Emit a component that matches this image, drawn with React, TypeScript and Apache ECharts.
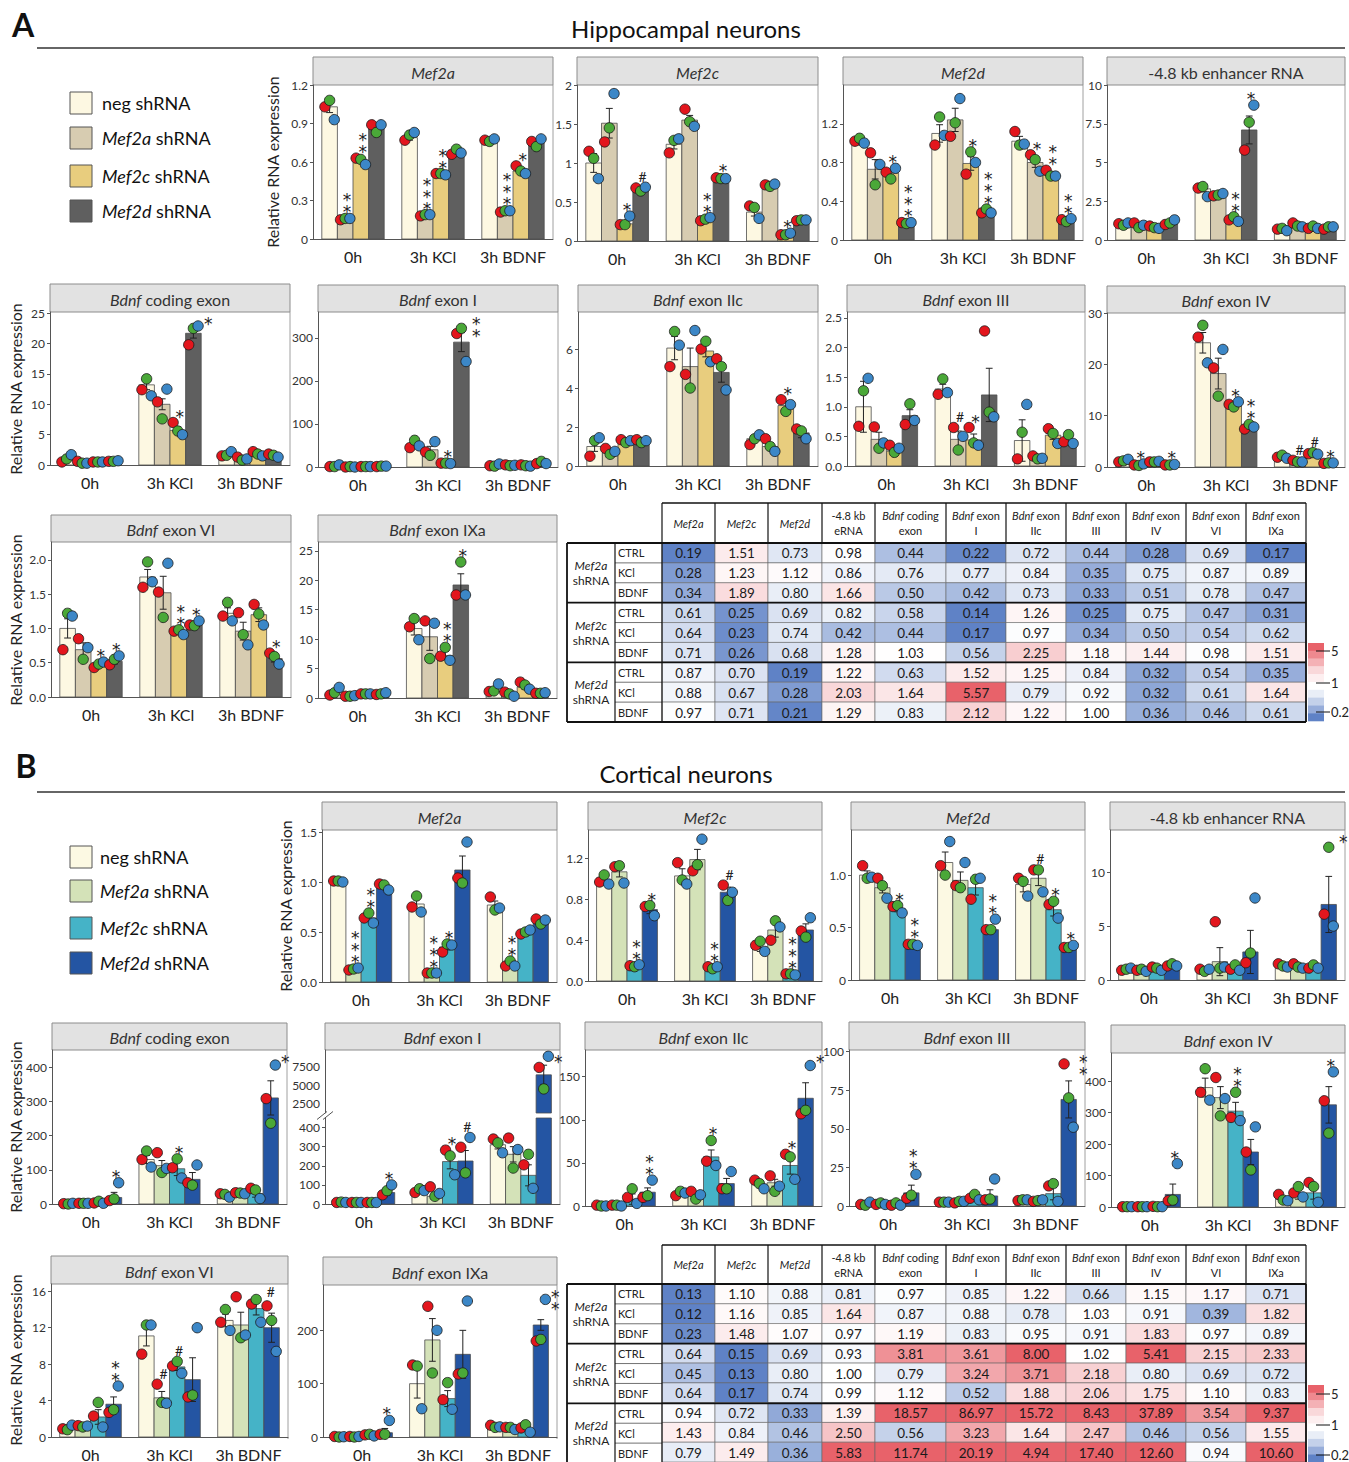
import React, { useEffect, useRef } from 'react';
import * as echarts from 'echarts';

const FONT = 'Lato, "Open Sans", "DejaVu Sans", sans-serif';
const STAR_FONT = '"DejaVu Sans", Lato, sans-serif';
const BAR_FRAC = 0.195;
const DOT_OFF = [-0.3, 0, 0.3];

const GROUPS = ['0h', '3h KCl', '3h BDNF'];
const COND_LABELS = ['neg shRNA', '{i|Mef2a} shRNA', '{i|Mef2c} shRNA', '{i|Mef2d} shRNA'];
const COLORS_A = ['#fdf8e2', '#d7ccb1', '#e8cd7e', '#5f5f5f'];
const COLORS_B = ['#fcf9e3', '#d4e2b8', '#45b3c7', '#2455a3'];
const DOT_COLORS = ['#e3161d', '#4aa838', '#3c87c7'];
const TITLE_A = 'Hippocampal neurons';
const TITLE_B = 'Cortical neurons';
const Y_TITLE = 'Relative RNA expression';

// ---------- Panel A (hippocampal) : rows = condition (neg, Mef2a, Mef2c, Mef2d), cols = group ----------
const A1_MEAN = [[1.03, 0.79, 0.77], [0.16, 0.18, 0.22], [0.61, 0.50, 0.53], [0.86, 0.68, 0.75]];
const A1_SEM = [[0.045, 0.02, 0.01], [0.005, 0.005, 0.005], [0.015, 0.005, 0.02], [0.02, 0.015, 0.02]];
const A1_DOTS = [
  [[1.03, 1.08, 0.93], [0.77, 0.81, 0.83], [0.77, 0.76, 0.78]],
  [[0.15, 0.16, 0.16], [0.18, 0.19, 0.19], [0.21, 0.22, 0.22]],
  [[0.63, 0.62, 0.58], [0.51, 0.51, 0.50], [0.57, 0.53, 0.51]],
  [[0.89, 0.83, 0.89], [0.66, 0.70, 0.67], [0.76, 0.72, 0.78]]];
const A1_SIG = [['', '', ''], ['**', '***', '***'], ['**', '**', '*'], ['', '', '']];

const A2_MEAN = [[1.0, 1.24, 0.37], [1.51, 1.55, 0.71], [0.22, 0.27, 0.08], [0.66, 0.81, 0.27]];
const A2_SEM = [[0.12, 0.06, 0.05], [0.19, 0.06, 0.01], [0.03, 0.01, 0.01], [0.02, 0.01, 0.01]];
const A2_DOTS = [
  [[1.15, 1.06, 0.80], [1.13, 1.29, 1.31], [0.45, 0.43, 0.29]],
  [[1.27, 1.45, 1.89], [1.69, 1.53, 1.47], [0.72, 0.70, 0.73]],
  [[0.21, 0.21, 0.32], [0.26, 0.28, 0.30], [0.08, 0.08, 0.10]],
  [[0.68, 0.64, 0.69], [0.81, 0.80, 0.80], [0.26, 0.27, 0.27]]];
const A2_SIG = [['', '', ''], ['', '', ''], ['*', '**', '*'], ['#', '*', '']];

const A3_MEAN = [[1.0, 1.1, 1.02], [0.73, 1.24, 0.80], [0.69, 0.79, 0.67], [0.18, 0.29, 0.20]];
const A3_SEM = [[0.02, 0.09, 0.05], [0.1, 0.12, 0.05], [0.04, 0.07, 0.02], [0.01, 0.01, 0.01]];
const A3_DOTS = [
  [[1.02, 1.05, 1.0], [0.98, 1.27, 1.08], [1.12, 0.98, 0.99]],
  [[0.90, 0.57, 0.78], [1.07, 1.21, 1.46], [0.88, 0.83, 0.71]],
  [[0.70, 0.63, 0.74], [0.68, 0.91, 0.80], [0.72, 0.66, 0.66]],
  [[0.18, 0.17, 0.18], [0.28, 0.32, 0.28], [0.21, 0.19, 0.22]]];
const A3_SIG = [['', '', ''], ['', '', '*'], ['*', '*', '**'], ['***', '***', '**']];

const A4_MEAN = [[1.0, 3.3, 0.7], [0.95, 2.9, 0.9], [0.8, 1.3, 0.8], [1.1, 7.1, 0.8]];
const A4_SEM = [[0.05, 0.2, 0.05], [0.1, 0.05, 0.08], [0.05, 0.1, 0.05], [0.1, 0.9, 0.05]];
const A4_DOTS = [
  [[1.05, 0.95, 1.1], [3.35, 3.45, 2.8], [0.7, 0.75, 0.6]],
  [[1.1, 0.8, 0.95], [2.85, 2.9, 3.0], [1.1, 0.9, 0.85]],
  [[0.9, 0.8, 0.75], [1.3, 1.5, 1.2], [0.75, 0.9, 0.75]],
  [[1.0, 1.1, 1.3], [5.8, 7.6, 8.7], [0.7, 0.85, 0.85]]];
const A4_SIG = [['', '', ''], ['', '', ''], ['', '**', ''], ['', '*', '']];

const A5_MEAN = [[1.0, 13.2, 1.8], [0.5, 10.0, 0.9], [0.5, 5.7, 1.9], [0.6, 21.7, 1.6]];
const A5_SEM = [[0.35, 0.8, 0.2], [0.1, 0.9, 0.2], [0.05, 0.6, 0.2], [0.05, 0.8, 0.15]];
const A5_DOTS = [
  [[0.5, 1.0, 1.7], [12.4, 14.2, 11.4], [1.5, 1.6, 2.2]],
  [[0.6, 0.3, 0.3], [10.4, 7.6, 12.5], [1.3, 0.8, 1.0]],
  [[0.5, 0.5, 0.5], [7.0, 5.6, 5.0], [2.2, 1.8, 1.5]],
  [[0.6, 0.6, 0.7], [19.8, 22.5, 22.9], [1.8, 1.6, 1.3]]];
const A5_SIG = [['', '', ''], ['', '', ''], ['', '*', ''], ['', '*', '']];

const A6_MEAN = [[1, 52, 4], [1, 40, 5], [1, 9, 3], [1, 290, 10]];
const A6_SEM = [[1, 5, 1], [0.5, 8, 1], [0.5, 0.5, 1], [0.5, 22, 2]];
const A6_DOTS = [
  [[1, 1, 5], [45, 62, 49], [3, 2, 7]],
  [[0, 1, 0], [35, 27, 59], [5, 3, 4]],
  [[1, 1, 1], [9, 9, 8], [5, 3, 2]],
  [[1, 2, 2], [310, 322, 245], [8, 13, 8]]];
const A6_SIG = [['', '', ''], ['', '', ''], ['', '*', ''], ['', '**', '']];

const A7_MEAN = [[1.0, 6.05, 1.4], [0.7, 5.1, 1.0], [1.25, 5.9, 3.1], [1.25, 4.8, 1.7]];
const A7_SEM = [[0.25, 0.6, 0.15], [0.1, 0.95, 0.2], [0.05, 0.3, 0.2], [0.05, 0.5, 0.25]];
const A7_DOTS = [
  [[0.5, 1.3, 1.45], [5.1, 6.9, 6.2], [1.1, 1.4, 1.6]],
  [[0.9, 0.6, 0.75], [4.7, 4.0, 6.95], [1.4, 1.0, 0.75]],
  [[1.35, 1.2, 1.3], [6.0, 6.4, 5.35], [3.4, 2.8, 3.15]],
  [[1.35, 1.2, 1.3], [5.5, 5.1, 3.9], [1.9, 1.8, 1.4]]];
const A7_SIG = [['', '', ''], ['', '', ''], ['', '', '*'], ['', '', '']];

const A8_MEAN = [[1.0, 1.3, 0.43], [0.45, 0.45, 0.14], [0.25, 0.44, 0.52], [0.85, 1.2, 0.43]];
const A8_SEM = [[0.43, 0.08, 0.35], [0.12, 0.14, 0.03], [0.05, 0.1, 0.07], [0.1, 0.45, 0.05]];
const A8_DOTS = [
  [[0.67, 1.27, 1.48], [1.21, 1.47, 1.24], [0.12, 0.57, 1.04]],
  [[0.66, 0.30, 0.39], [0.65, 0.27, 0.50], [0.17, 0.12, 0.13]],
  [[0.35, 0.23, 0.30], [0.65, 0.39, 0.35], [0.63, 0.55, 0.38]],
  [[0.70, 1.05, 0.77], [2.28, 0.91, 0.83], [0.41, 0.53, 0.38]]];
const A8_SIG = [['', '', ''], ['', '#', ''], ['', '*', ''], ['', '', '']];

const A9_MEAN = [[1.0, 24.2, 2.0], [0.5, 18.2, 1.1], [1.0, 12.1, 2.6], [0.4, 7.8, 0.8]];
const A9_SEM = [[0.2, 2.0, 0.3], [0.1, 3.0, 0.1], [0.05, 0.3, 0.1], [0.05, 0.3, 0.05]];
const A9_DOTS = [
  [[1.0, 1.2, 1.5], [25.3, 27.6, 20.3], [1.9, 2.3, 1.7]],
  [[0.4, 0.3, 0.6], [19.3, 13.8, 22.9], [1.3, 1.0, 1.0]],
  [[1.0, 1.0, 1.1], [12.2, 11.7, 12.7], [2.6, 2.8, 2.5]],
  [[0.4, 0.4, 0.5], [7.4, 8.3, 7.8], [0.7, 0.8, 0.8]]];
const A9_SIG = [['', '', ''], ['*', '', '#'], ['', '*', '#'], ['*', '**', '*']];

const A10_MEAN = [[1.0, 1.75, 1.22], [0.69, 1.52, 0.96], [0.47, 0.95, 1.2], [0.52, 1.07, 0.56]];
const A10_SEM = [[0.14, 0.11, 0.08], [0.1, 0.24, 0.13], [0.03, 0.02, 0.1], [0.04, 0.02, 0.05]];
const A10_DOTS = [
  [[0.69, 1.22, 1.18], [1.6, 1.97, 1.68], [1.18, 1.38, 1.11]],
  [[0.85, 0.55, 0.72], [1.53, 1.16, 1.95], [1.23, 0.91, 0.76]],
  [[0.43, 0.48, 0.51], [0.96, 0.98, 0.91], [1.35, 1.21, 1.05]],
  [[0.47, 0.55, 0.6], [1.05, 1.04, 1.11], [0.64, 0.59, 0.48]]];
const A10_SIG = [['', '', ''], ['', '', ''], ['*', '**', ''], ['*', '*', '*']];

const A11_MEAN = [[1.0, 11.8, 1.1], [0.35, 10.4, 0.6], [0.7, 7.2, 1.9], [0.7, 19.2, 0.8]];
const A11_SEM = [[0.4, 1.1, 0.3], [0.05, 2.3, 0.2], [0.05, 0.7, 0.4], [0.1, 1.9, 0.05]];
const A11_DOTS = [
  [[0.5, 0.9, 1.8], [12.1, 13.5, 9.9], [1.1, 1.2, 2.4]],
  [[0.3, 0.3, 0.4], [13.1, 6.7, 12.7], [1.0, 0.7, 0.3]],
  [[0.7, 0.7, 0.7], [7.1, 8.6, 6.4], [2.7, 2.2, 1.5]],
  [[0.6, 0.7, 0.9], [17.5, 23.1, 17.5], [0.8, 0.8, 0.9]]];
const A11_SIG = [['', '', ''], ['', '', ''], ['', '**', ''], ['', '*', '']];

// ---------- Panel B (cortical) ----------
const B1_MEAN = [[1.01, 0.78, 0.77], [0.12, 0.09, 0.17], [0.64, 0.35, 0.49], [0.95, 1.12, 0.60]];
const B1_SEM = [[0.005, 0.05, 0.04], [0.005, 0.003, 0.02], [0.03, 0.03, 0.01], [0.02, 0.14, 0.02]];
const B1_DOTS = [
  [[1.01, 1.01, 1.0], [0.75, 0.86, 0.70], [0.85, 0.72, 0.74]],
  [[0.12, 0.13, 0.14], [0.09, 0.09, 0.09], [0.16, 0.21, 0.16]],
  [[0.64, 0.69, 0.59], [0.30, 0.38, 0.37], [0.48, 0.50, 0.52]],
  [[0.98, 0.97, 0.92], [1.04, 0.99, 1.40], [0.63, 0.58, 0.62]]];
const B1_SIG = [['', '', ''], ['***', '***', '**'], ['**', '*', ''], ['', '', '']];

const B2_MEAN = [[0.97, 1.03, 0.33], [1.07, 1.19, 0.50], [0.14, 0.13, 0.06], [0.70, 0.87, 0.50]];
const B2_SEM = [[0.03, 0.07, 0.04], [0.05, 0.1, 0.07], [0.01, 0.01, 0.005], [0.04, 0.05, 0.06]];
const B2_DOTS = [
  [[0.97, 1.04, 0.95], [1.16, 0.99, 0.95], [0.35, 0.39, 0.29]],
  [[1.12, 1.13, 0.96], [1.08, 1.14, 1.39], [0.40, 0.59, 0.53]],
  [[0.15, 0.14, 0.16], [0.14, 0.12, 0.14], [0.07, 0.07, 0.06]],
  [[0.73, 0.74, 0.64], [0.94, 0.79, 0.87], [0.49, 0.43, 0.62]]];
const B2_SIG = [['', '', ''], ['', '', ''], ['**', '**', '***'], ['*', '#', '']];

const B3_MEAN = [[1.0, 1.12, 0.91], [0.88, 0.95, 0.97], [0.68, 0.88, 0.67], [0.34, 0.48, 0.31]];
const B3_SEM = [[0.04, 0.1, 0.07], [0.05, 0.08, 0.07], [0.03, 0.07, 0.06], [0.01, 0.03, 0.01]];
const B3_DOTS = [
  [[1.09, 0.97, 0.98], [1.09, 1.0, 1.32], [0.97, 0.94, 0.80]],
  [[0.97, 0.90, 0.78], [0.90, 0.88, 1.12], [1.05, 1.05, 0.84]],
  [[0.70, 0.71, 0.64], [0.77, 0.96, 0.97], [0.72, 0.75, 0.59]],
  [[0.34, 0.34, 0.33], [0.48, 0.48, 0.58], [0.31, 0.31, 0.33]]];
const B3_SIG = [['', '', ''], ['', '', '#'], ['*', '', '*'], ['**', '**', '*']];

const B4_MEAN = [[0.9, 0.9, 1.3], [0.85, 1.7, 1.3], [1.1, 1.0, 1.2], [1.35, 2.6, 7.0]];
const B4_SEM = [[0.05, 0.05, 0.1], [0.05, 1.3, 0.1], [0.1, 0.15, 0.1], [0.07, 2.0, 2.6]];
const B4_DOTS = [
  [[0.9, 1.0, 1.1], [1.0, 0.8, 1.0], [1.5, 1.3, 1.2]],
  [[0.9, 1.0, 0.8], [5.4, 1.1, 1.2], [1.5, 1.2, 1.1]],
  [[1.2, 1.1, 0.9], [1.0, 1.4, 0.9], [1.1, 1.4, 1.1]],
  [[1.3, 1.5, 1.3], [1.6, 2.5, 7.6], [6.1, 12.3, 5.0]]];
const B4_SIG = [['', '', ''], ['', '', ''], ['', '', ''], ['', '', '*']];

const B5_MEAN = [[1, 130, 25], [2, 112, 30], [3, 103, 30], [19, 72, 310]];
const B5_SEM = [[0.5, 12, 3], [0.3, 15, 2], [2, 20, 10], [15, 20, 50]];
const B5_DOTS = [
  [[1, 0, 2], [130, 155, 108], [30, 28, 20]],
  [[2, 2, 2], [150, 92, 104], [33, 32, 30]],
  [[3, 8, 2], [106, 132, 76], [46, 41, 16]],
  [[10, 15, 62], [62, 55, 114], [308, 236, 406]]];
const B5_SIG = [['', '', ''], ['', '', ''], ['', '*', ''], ['*', '', '*']];

const B6_MEAN = [[8, 68, 310], [8, 40, 260], [8, 222, 150], [60, 225, 6400]];
const B6_SEM = [[0.5, 6, 22], [0.5, 15, 40], [0.5, 38, 55], [15, 55, 1300]];
const B6_DOTS = [
  [[8, 10, 8], [60, 80, 70], [340, 320, 268]],
  [[8, 8, 8], [90, 40, 55], [345, 188, 285]],
  [[8, 8, 8], [282, 252, 153], [205, 260, 82]],
  [[48, 70, 100], [297, 163, 348], [7400, 4500, 8900]]];
const B6_SIG = [['', '', ''], ['', '', ''], ['', '*', ''], ['*', '#', '*']];
const B6_UPPER_TICKS = [2500, 5000, 7500];

const B7_MEAN = [[0.5, 15, 25], [0.5, 12, 27], [8, 57, 47], [16, 26, 125]];
const B7_SEM = [[0.3, 1, 3], [0.3, 3, 4], [6, 8, 10], [5, 6, 18]];
const B7_DOTS = [
  [[1, 0, 0], [12, 17, 15], [30, 26, 20]],
  [[1, 1, 0], [17, 8, 13], [35, 17, 23]],
  [[10, 20, 3], [52, 76, 47], [60, 57, 31]],
  [[10, 12, 30], [20, 20, 40], [107, 111, 163]]];
const B7_SIG = [['', '', ''], ['', '', ''], ['', '*', '*'], ['**', '', '*']];

const B8_MEAN = [[1, 2.5, 3.5], [1, 2, 3.5], [0.5, 6, 8], [8.5, 6.5, 69]];
const B8_SEM = [[0.5, 0.2, 0.3], [0.5, 0.5, 0.3], [0.3, 1.5, 4], [5, 4, 12]];
const B8_DOTS = [
  [[1, 0.5, 2.5], [2.5, 2.5, 2.5], [3.5, 4, 4]],
  [[1, 2, 1], [2, 3, 3], [3, 3.5, 4]],
  [[0.5, 2, 0.5], [5, 7.5, 4], [13, 14.5, 3]],
  [[5, 7, 20.5], [4, 4.5, 17.5], [92, 70, 51]]];
const B8_SIG = [['', '', ''], ['', '', ''], ['', '', ''], ['**', '', '**']];

const B9_MEAN = [[1, 380, 25], [1, 348, 35], [2, 305, 45], [40, 175, 325]];
const B9_SEM = [[0.3, 30, 5], [0.3, 35, 10], [0.5, 28, 20], [33, 40, 58]];
const B9_DOTS = [
  [[1, 1, 1], [365, 440, 340], [40, 22, 20]],
  [[1, 1, 1], [412, 290, 345], [45, 65, 32]],
  [[2, 1, 1], [285, 365, 275], [78, 65, 15]],
  [[20, 22, 138], [175, 118, 255], [338, 235, 430]]];
const B9_SIG = [['', '', ''], ['', '', ''], ['', '**', ''], ['*', '', '*']];

const B10_MEAN = [[1.0, 11.1, 12.8], [1.1, 4.3, 12.3], [2.2, 7.7, 14.1], [3.6, 6.3, 12.0]];
const B10_SEM = [[0.15, 1.1, 0.7], [0.05, 0.7, 1.4], [0.8, 0.4, 0.7], [0.8, 2.4, 1.6]];
const B10_DOTS = [
  [[0.9, 0.8, 1.3], [9.1, 12.3, 12.3], [12.6, 14.0, 11.7]],
  [[1.25, 1.1, 1.2], [5.8, 3.8, 3.7], [15.4, 10.9, 11.2]],
  [[2.3, 3.8, 1.1], [7.8, 8.3, 7.0], [14.6, 15.1, 12.6]],
  [[2.7, 3.0, 5.6], [4.4, 4.6, 12.0], [14.4, 12.8, 9.4]]];
const B10_SIG = [['', '', ''], ['', '#', ''], ['', '#', '#'], ['**', '', '']];

const B11_MEAN = [[1, 100, 20], [1, 182, 18], [3, 72, 15], [8, 155, 210]];
const B11_SEM = [[0.5, 27, 2], [0.5, 40, 2], [1, 15, 3], [8, 45, 10]];
const B11_DOTS = [
  [[1, 0, 0.5], [135, 133, 53], [22, 18, 19]],
  [[1, 0, 1], [245, 120, 200], [18, 18, 14]],
  [[4, 5, 2], [70, 102, 52], [17, 23, 9]],
  [[5, 5, 31], [118, 120, 255], [180, 183, 258]]];
const B11_SIG = [['', '', ''], ['', '', ''], ['', '', ''], ['*', '', '**']];

// ---------- Heatmaps (fold change vs neg shRNA) ----------
const HM_COLS = ['{i|Mef2a}', '{i|Mef2c}', '{i|Mef2d}', '-4.8 kb\neRNA', '{i|Bdnf} coding\nexon', '{i|Bdnf} exon\nI',
  '{i|Bdnf} exon\nIIc', '{i|Bdnf} exon\nIII', '{i|Bdnf} exon\nIV', '{i|Bdnf} exon\nVI', '{i|Bdnf} exon\nIXa'];
const HM_ROWS = ['CTRL', 'KCl', 'BDNF', 'CTRL', 'KCl', 'BDNF', 'CTRL', 'KCl', 'BDNF'];
const HM_GROUPS = ['{i|Mef2a}\nshRNA', '{i|Mef2c}\nshRNA', '{i|Mef2d}\nshRNA'];
const HM_A = [
  [0.19, 1.51, 0.73, 0.98, 0.44, 0.22, 0.72, 0.44, 0.28, 0.69, 0.17],
  [0.28, 1.23, 1.12, 0.86, 0.76, 0.77, 0.84, 0.35, 0.75, 0.87, 0.89],
  [0.34, 1.89, 0.80, 1.66, 0.50, 0.42, 0.73, 0.33, 0.51, 0.78, 0.47],
  [0.61, 0.25, 0.69, 0.82, 0.58, 0.14, 1.26, 0.25, 0.75, 0.47, 0.31],
  [0.64, 0.23, 0.74, 0.42, 0.44, 0.17, 0.97, 0.34, 0.50, 0.54, 0.62],
  [0.71, 0.26, 0.68, 1.28, 1.03, 0.56, 2.25, 1.18, 1.44, 0.98, 1.51],
  [0.87, 0.70, 0.19, 1.22, 0.63, 1.52, 1.25, 0.84, 0.32, 0.54, 0.35],
  [0.88, 0.67, 0.28, 2.03, 1.64, 5.57, 0.79, 0.92, 0.32, 0.61, 1.64],
  [0.97, 0.71, 0.21, 1.29, 0.83, 2.12, 1.22, 1.00, 0.36, 0.46, 0.61]];
const HM_B = [
  [0.13, 1.10, 0.88, 0.81, 0.97, 0.85, 1.22, 0.66, 1.15, 1.17, 0.71],
  [0.12, 1.16, 0.85, 1.64, 0.87, 0.88, 0.78, 1.03, 0.91, 0.39, 1.82],
  [0.23, 1.48, 1.07, 0.97, 1.19, 0.83, 0.95, 0.91, 1.83, 0.97, 0.89],
  [0.64, 0.15, 0.69, 0.93, 3.81, 3.61, 8.00, 1.02, 5.41, 2.15, 2.33],
  [0.45, 0.13, 0.80, 1.00, 0.79, 3.24, 3.71, 2.18, 0.80, 0.69, 0.72],
  [0.64, 0.17, 0.74, 0.99, 1.12, 0.52, 1.88, 2.06, 1.75, 1.10, 0.83],
  [0.94, 0.72, 0.33, 1.39, 18.57, 86.97, 15.72, 8.43, 37.89, 3.54, 9.37],
  [1.43, 0.84, 0.46, 2.50, 0.56, 3.23, 1.64, 2.47, 0.46, 0.56, 1.55],
  [0.79, 1.49, 0.36, 5.83, 11.74, 20.19, 4.94, 17.40, 12.60, 0.94, 10.60]];
const CB_TICKS = [5, 1, 0.2];
const CB_STEPS = [5, 4, 3, 2, 1.4, 1, 0.8, 0.55, 0.35, 0.2];

// layout (column widths of the table, in px)
const HM_COL_W = [53, 53, 54, 53, 71, 60, 60, 60, 60, 60, 60];
const HM_EDGES = HM_COL_W.reduce((a, w) => { a.push(a[a.length - 1] + w); return a; }, [0]);

const HM_RED = [232, 98, 106];
const HM_BLUE = [95, 130, 198];
function cellColor(v) {
  let t, c;
  if (v >= 1) { t = Math.min(1, (v - 1) / 4); c = HM_RED; }
  else { t = Math.min(1, Math.log(v) / Math.log(0.2)); c = HM_BLUE; }
  const m = (k) => Math.round(255 + (c[k] - 255) * t);
  return `rgb(${m(0)},${m(1)},${m(2)})`;
}

function fmtFn(f) {
  if (f === 'f1') return (v) => (+v).toFixed(1);
  if (f === 'z1') return (v) => (v === 0 ? '0' : (+v).toFixed(1));
  return (v) => String(+(+v).toFixed(3));
}

function rt(text, size, o: any = {}) {
  const fill = o.fill || '#222';
  const st: any = {
    text, fontSize: size, fontFamily: FONT, fill, fontWeight: o.weight || 'normal',
    align: o.align || 'center', textAlign: o.align || 'center',
    verticalAlign: 'middle', textVerticalAlign: 'middle',
    rich: {
      i: { fontStyle: 'italic', fontSize: size, fontFamily: FONT, fill, lineHeight: o.lh },
      n: { fontSize: size, fontFamily: FONT, fill, lineHeight: o.lh },
    },
  };
  if (o.lh) st.lineHeight = o.lh;
  return st;
}

const PANELS_A = [
  { title: '{i|Mef2a}', L: 313, R: 553, HT: 57, T: 85, B: 239, max: 1.2, iv: 0.3, fmt: 'g', mean: A1_MEAN, sem: A1_SEM, dots: A1_DOTS, sig: A1_SIG },
  { title: '{i|Mef2c}', L: 577, R: 818, HT: 57, T: 85, B: 241, max: 2, iv: 0.5, fmt: 'g', mean: A2_MEAN, sem: A2_SEM, dots: A2_DOTS, sig: A2_SIG },
  { title: '{i|Mef2d}', L: 843, R: 1083, HT: 57, T: 85, B: 240, max: 1.6, iv: 0.4, hide: true, fmt: 'g', mean: A3_MEAN, sem: A3_SEM, dots: A3_DOTS, sig: A3_SIG },
  { title: '-4.8 kb enhancer RNA', L: 1107, R: 1345, HT: 57, T: 85, B: 240, max: 10, iv: 2.5, fmt: 'g', mean: A4_MEAN, sem: A4_SEM, dots: A4_DOTS, sig: A4_SIG },
  { title: '{i|Bdnf} coding exon', L: 50, R: 290, HT: 284, T: 312, B: 465, max: 25.2, iv: 5, hide: true, fmt: 'g', mean: A5_MEAN, sem: A5_SEM, dots: A5_DOTS, sig: A5_SIG },
  { title: '{i|Bdnf} exon I', L: 318, R: 558, HT: 285, T: 312, B: 467, max: 360, iv: 100, hide: true, fmt: 'g', mean: A6_MEAN, sem: A6_SEM, dots: A6_DOTS, sig: A6_SIG },
  { title: '{i|Bdnf} exon IIc', L: 578, R: 818, HT: 285, T: 312, B: 466, max: 7.9, iv: 2, hide: true, fmt: 'g', mean: A7_MEAN, sem: A7_SEM, dots: A7_DOTS, sig: A7_SIG },
  { title: '{i|Bdnf} exon III', L: 847, R: 1085, HT: 285, T: 312, B: 466, max: 2.6, iv: 0.5, hide: true, fmt: 'f1', mean: A8_MEAN, sem: A8_SEM, dots: A8_DOTS, sig: A8_SIG },
  { title: '{i|Bdnf} exon IV', L: 1107, R: 1345, HT: 286, T: 313, B: 467, max: 30, iv: 10, fmt: 'g', mean: A9_MEAN, sem: A9_SEM, dots: A9_DOTS, sig: A9_SIG },
  { title: '{i|Bdnf} exon VI', L: 51, R: 291, HT: 515, T: 542, B: 697, max: 2.26, iv: 0.5, hide: true, fmt: 'f1', mean: A10_MEAN, sem: A10_SEM, dots: A10_DOTS, sig: A10_SIG },
  { title: '{i|Bdnf} exon IXa', L: 318, R: 557, HT: 515, T: 542, B: 698, max: 26.5, iv: 5, hide: true, fmt: 'g', mean: A11_MEAN, sem: A11_SEM, dots: A11_DOTS, sig: A11_SIG },
];

const PANELS_B = [
  { title: '{i|Mef2a}', L: 322, R: 557, HT: 802, T: 830, B: 982, max: 1.52, iv: 0.5, hide: true, fmt: 'f1', mean: B1_MEAN, sem: B1_SEM, dots: B1_DOTS, sig: B1_SIG },
  { title: '{i|Mef2c}', L: 588, R: 822, HT: 802, T: 830, B: 981, max: 1.48, iv: 0.4, hide: true, fmt: 'f1', mean: B2_MEAN, sem: B2_SEM, dots: B2_DOTS, sig: B2_SIG },
  { title: '{i|Mef2d}', L: 851, R: 1085, HT: 802, T: 830, B: 980, max: 1.43, iv: 0.5, hide: true, fmt: 'z1', mean: B3_MEAN, sem: B3_SEM, dots: B3_DOTS, sig: B3_SIG },
  { title: '-4.8 kb enhancer RNA', L: 1110, R: 1345, HT: 802, T: 830, B: 980, max: 13.9, iv: 5, hide: true, fmt: 'g', mean: B4_MEAN, sem: B4_SEM, dots: B4_DOTS, sig: B4_SIG },
  { title: '{i|Bdnf} coding exon', L: 52, R: 287, HT: 1023, T: 1050, B: 1204, max: 450, iv: 100, hide: true, fmt: 'g', mean: B5_MEAN, sem: B5_SEM, dots: B5_DOTS, sig: B5_SIG },
  { title: '{i|Bdnf} exon I', L: 325, R: 560, HT: 1023, T: 1050, B: 1204, max: 450, iv: 100, hide: true, fmt: 'g', mean: B6_MEAN, sem: B6_SEM, dots: B6_DOTS, sig: B6_SIG,
    brk: { lowTop: 1118, hiBottom: 1113, hiMin: 1250, hiMax: 9750, hiIv: 1250, hiTicks: B6_UPPER_TICKS } },
  { title: '{i|Bdnf} exon IIc', L: 585, R: 822, HT: 1022, T: 1050, B: 1206, max: 181, iv: 50, hide: true, fmt: 'g', mean: B7_MEAN, sem: B7_SEM, dots: B7_DOTS, sig: B7_SIG },
  { title: '{i|Bdnf} exon III', L: 849, R: 1085, HT: 1022, T: 1050, B: 1206, max: 101, iv: 25, hide: true, fmt: 'g', mean: B8_MEAN, sem: B8_SEM, dots: B8_DOTS, sig: B8_SIG },
  { title: '{i|Bdnf} exon IV', L: 1111, R: 1345, HT: 1025, T: 1053, B: 1207, max: 490, iv: 100, hide: true, fmt: 'g', mean: B9_MEAN, sem: B9_SEM, dots: B9_DOTS, sig: B9_SIG },
  { title: '{i|Bdnf} exon VI', L: 51, R: 288, HT: 1256, T: 1284, B: 1439, max: 16.8, iv: 4, hide: true, fmt: 'g', mean: B10_MEAN, sem: B10_SEM, dots: B10_DOTS, sig: B10_SIG },
  { title: '{i|Bdnf} exon IXa', L: 323, R: 557, HT: 1257, T: 1285, B: 1439, max: 285, iv: 100, hide: true, fmt: 'g', mean: B11_MEAN, sem: B11_SEM, dots: B11_DOTS, sig: B11_SIG },
];

function buildOption() {
  const grid: any[] = [], xAxis: any[] = [], yAxis: any[] = [], series: any[] = [], g: any[] = [];

  const barSeries = (p, colors, gi, r) => {
    const data: any[] = [];
    p.mean.forEach((row, c) => row.forEach((m, k) => { if (m > r.lo) data.push([k, m, c, p.sem[c][k]]); }));
    return {
      type: 'custom', xAxisIndex: gi, yAxisIndex: gi, silent: true, encode: { x: 0, y: 1 }, data, z: 2,
      renderItem: (params, api) => {
        const gx = api.value(0), m = api.value(1), c = api.value(2), s = api.value(3);
        const base = api.coord([gx, r.lo]);
        const bw = api.size([1, 0])[0] * BAR_FRAC;
        const cx = base[0] + (c - 1.5) * bw;
        const yTop = api.coord([gx, Math.min(m, r.hi)])[1];
        const kids: any[] = [{ type: 'rect', shape: { x: cx - bw / 2, y: yTop, width: bw, height: base[1] - yTop },
          style: { fill: colors[c], stroke: '#4d4d4d', lineWidth: 0.8 } }];
        const e0 = m - s, e1 = m + s;
        if (s > 0 && e1 > r.lo && e0 < r.hi) {
          const ya = api.coord([gx, Math.max(e0, r.lo)])[1];
          const yb = api.coord([gx, Math.min(e1, r.hi)])[1];
          const cw = bw * 0.22;
          kids.push({ type: 'line', shape: { x1: cx, y1: ya, x2: cx, y2: yb }, style: { stroke: '#222', lineWidth: 1 } });
          if (e0 >= r.lo) kids.push({ type: 'line', shape: { x1: cx - cw, y1: ya, x2: cx + cw, y2: ya }, style: { stroke: '#222', lineWidth: 1 } });
          if (e1 <= r.hi) kids.push({ type: 'line', shape: { x1: cx - cw, y1: yb, x2: cx + cw, y2: yb }, style: { stroke: '#222', lineWidth: 1 } });
        }
        return { type: 'group', children: kids };
      },
    };
  };

  const dotSeries = (p, gi, r) => {
    const data: any[] = [];
    p.dots.forEach((row, c) => row.forEach((reps, k) => reps.forEach((v, j) => {
      if (v >= r.lo && v <= r.hi) data.push([k, v, c, j]);
    })));
    return {
      type: 'custom', xAxisIndex: gi, yAxisIndex: gi, silent: true, encode: { x: 0, y: 1 }, data, z: 3,
      renderItem: (params, api) => {
        const gx = api.value(0), v = api.value(1), c = api.value(2), j = api.value(3);
        const bw = api.size([1, 0])[0] * BAR_FRAC;
        const pt = api.coord([gx, v]);
        return { type: 'circle', shape: { cx: pt[0] + (c - 1.5) * bw + DOT_OFF[j] * bw, cy: pt[1], r: 5.2 },
          style: { fill: DOT_COLORS[j], stroke: '#1a1a1a', lineWidth: 0.8 } };
      },
    };
  };

  // significance marks: one multi-line text per bar (stars stacked vertically)
  const starSeries = (p, gi, r) => {
    const items: any[] = [];
    p.sig.forEach((row, c) => row.forEach((mk, k) => {
      if (!mk) return;
      const anchor = Math.max(p.mean[c][k] + p.sem[c][k], ...p.dots[c][k]);
      if (anchor >= r.lo && anchor <= r.hi) items.push({ g: k, c, anchor, marks: mk.split('') });
    }));
    return {
      type: 'custom', xAxisIndex: gi, yAxisIndex: gi, silent: true, encode: { x: 0, y: 1 },
      data: items.map((it) => [it.g, it.anchor, it.c]), z: 4,
      renderItem: (params, api) => {
        const it = items[params.dataIndex];
        const bw = api.size([1, 0])[0] * BAR_FRAC;
        const cx = api.coord([it.g, r.lo])[0] + (it.c - 1.5) * bw;
        const topPx = api.coord([it.g, r.hi])[1];
        const n = it.marks.length, step = 12;
        const isStar = it.marks[0] === '*';
        const size = isStar ? 17 : 14;
        const fam = isStar ? STAR_FONT : FONT;
        const off = isStar ? 5 : 0;
        let x = cx + bw * 0.12;
        let va = 'bottom';
        let y = api.coord([it.g, it.anchor])[1] - 5 + off;
        if (y - off - n * step < topPx + 1) { x = cx + bw * 0.95; va = 'top'; y = topPx + 1 + off; }
        return { type: 'text', x, y, style: {
          text: it.marks.join('\n'), fill: '#222', font: `${size}px ${fam}`, fontSize: size, fontFamily: fam, lineHeight: step,
          align: 'center', textAlign: 'center', verticalAlign: va, textVerticalAlign: va } };
      },
    };
  };

  const addPanel = (p, colors) => {
    g.push({ type: 'line', silent: true, shape: { x1: p.R, y1: p.T, x2: p.R, y2: p.B }, style: { stroke: '#a0a0a0', lineWidth: 1 } });
    g.push({ type: 'rect', silent: true, shape: { x: p.L, y: p.HT, width: p.R - p.L, height: p.T - p.HT }, style: { fill: '#e2e2e2', stroke: '#8c8c8c', lineWidth: 1 } });
    g.push({ type: 'text', silent: true, x: (p.L + p.R) / 2, y: (p.HT + p.T) / 2 + 1, style: rt(p.title, 16, { fill: '#333' }) });
    const ranges = p.brk
      ? [
        { lo: 0, hi: p.max, top: p.brk.lowTop, bottom: p.B, iv: p.iv, hide: true, showX: true, fmt: fmtFn(p.fmt), ticks: true },
        { lo: p.brk.hiMin, hi: p.brk.hiMax, top: p.T, bottom: p.brk.hiBottom, iv: p.brk.hiIv, hide: true, showX: false,
          fmt: (v) => (p.brk.hiTicks.indexOf(v) >= 0 ? String(v) : ''), ticks: false },
      ]
      : [{ lo: 0, hi: p.max, top: p.T, bottom: p.B, iv: p.iv, hide: !!p.hide, showX: true, fmt: fmtFn(p.fmt), ticks: true }];
    ranges.forEach((r) => {
      const gi = grid.length;
      grid.push({ left: p.L, top: r.top, width: p.R - p.L, height: r.bottom - r.top });
      xAxis.push({ type: 'category', gridIndex: gi, data: GROUPS, show: r.showX,
        axisTick: { show: false }, axisLine: { lineStyle: { color: '#555', width: 1 } },
        axisLabel: { fontSize: 16, color: '#222', margin: 9, fontFamily: FONT, interval: 0 } });
      yAxis.push({ type: 'value', gridIndex: gi, min: r.lo, max: r.hi, interval: r.iv,
        axisLine: { show: true, lineStyle: { color: '#555', width: 1 } },
        axisTick: { show: r.ticks, length: 3, lineStyle: { color: '#555' } }, splitLine: { show: false },
        axisLabel: { fontSize: 12, color: '#333', margin: 5, fontFamily: FONT, showMaxLabel: !r.hide, showMinLabel: true, formatter: r.fmt } });
      series.push(barSeries(p, colors, gi, r), dotSeries(p, gi, r), starSeries(p, gi, r));
    });
    if (p.brk) {
      const y0 = (p.brk.hiBottom + p.brk.lowTop) / 2;
      g.push({ type: 'rect', silent: true, z: 5, shape: { x: p.L - 6, y: p.brk.hiBottom + 0.5, width: 12, height: p.brk.lowTop - p.brk.hiBottom - 1 }, style: { fill: '#fff' } });
      [-3, 3].forEach((dx) => g.push({ type: 'line', silent: true, z: 6,
        shape: { x1: p.L + dx - 5, y1: y0 + 4, x2: p.L + dx + 5, y2: y0 - 4 }, style: { stroke: '#555', lineWidth: 1 } }));
    }
  };

  const addHeatmap = (vals, L) => {
    const gi = grid.length;
    grid.push({ left: L.xd, top: L.bTop, width: L.x1 - L.xd, height: L.bBot - L.bTop });
    xAxis.push({ type: 'value', gridIndex: gi, min: 0, max: HM_EDGES[HM_EDGES.length - 1], show: false });
    yAxis.push({ type: 'value', gridIndex: gi, min: 0, max: HM_ROWS.length, inverse: true, show: false });
    const data: any[] = [];
    vals.forEach((row, r) => row.forEach((v, c) => data.push([c, r, v])));
    series.push({
      type: 'custom', xAxisIndex: gi, yAxisIndex: gi, silent: true, encode: { x: 0, y: 1 }, data, z: 2,
      renderItem: (params, api) => {
        const c = api.value(0), r = api.value(1), v = api.value(2);
        const p0 = api.coord([HM_EDGES[c], r]), p1 = api.coord([HM_EDGES[c + 1], r + 1]);
        const x = Math.min(p0[0], p1[0]), y = Math.min(p0[1], p1[1]);
        const w = Math.abs(p1[0] - p0[0]), h = Math.abs(p1[1] - p0[1]);
        return { type: 'group', children: [
          { type: 'rect', shape: { x, y, width: w, height: h }, style: { fill: cellColor(v), stroke: '#666', lineWidth: 0.6 } },
          { type: 'text', x: x + w / 2, y: y + h / 2 + 0.5, style: { text: v.toFixed(2), fill: '#1a1a1a', font: `13.5px ${FONT}`, fontSize: 13.5, fontFamily: FONT,
            align: 'center', textAlign: 'center', verticalAlign: 'middle', textVerticalAlign: 'middle' } },
        ] };
      },
    });
    const rowH = (L.bBot - L.bTop) / HM_ROWS.length;
    const line = (x1, y1, x2, y2, w) => g.push({ type: 'line', silent: true, z: 10, shape: { x1, y1, x2, y2 }, style: { stroke: '#111', lineWidth: w } });
    HM_COLS.forEach((t, c) => {
      const cx = L.xd + (HM_EDGES[c] + HM_EDGES[c + 1]) / 2;
      g.push({ type: 'text', silent: true, z: 10, x: cx, y: (L.hTop + L.bTop) / 2, style: rt(t, 11, { lh: 15, fill: '#222' }) });
    });
    HM_EDGES.forEach((e) => line(L.xd + e, L.hTop, L.xd + e, L.bTop, 1.2));
    line(L.xd, L.hTop, L.x1, L.hTop, 1.6);
    line(L.x0, L.bTop, L.x1, L.bTop, 1.8);
    line(L.x0, L.bBot, L.x1, L.bBot, 1.8);
    line(L.x0, L.bTop, L.x0, L.bBot, 1.8);
    line(L.x1, L.bTop, L.x1, L.bBot, 1.8);
    line(L.xc, L.bTop, L.xc, L.bBot, 1.2);
    line(L.xd, L.bTop, L.xd, L.bBot, 1.2);
    [3, 6].forEach((k) => line(L.x0, L.bTop + k * rowH, L.x1, L.bTop + k * rowH, 1.6));
    [1, 2, 4, 5, 7, 8].forEach((k) => line(L.xc, L.bTop + k * rowH, L.xd, L.bTop + k * rowH, 0.6));
    HM_ROWS.forEach((t, r) => g.push({ type: 'text', silent: true, z: 10, x: L.xc + 3, y: L.bTop + (r + 0.5) * rowH,
      style: rt(t, 11, { align: 'left', fill: '#222' }) }));
    HM_GROUPS.forEach((t, k) => g.push({ type: 'text', silent: true, z: 10, x: (L.x0 + L.xc) / 2, y: L.bTop + (k * 3 + 1.5) * rowH,
      style: rt(t, 12, { lh: 15, fill: '#222' }) }));
    const bh = (L.cbBot - L.cbTop) / CB_STEPS.length;
    CB_STEPS.forEach((v, k) => g.push({ type: 'rect', silent: true, z: 10,
      shape: { x: L.cbX, y: L.cbTop + k * bh, width: 16, height: bh + 0.3 }, style: { fill: cellColor(v) } }));
    CB_TICKS.forEach((v, k) => {
      const y = L.cbTicks[k];
      line(L.cbX + 8, y, L.cbX + 22, y, 1);
      g.push({ type: 'text', silent: true, z: 10, x: L.cbX + 23, y, style: rt(String(v), 13, { align: 'left', fill: '#222' }) });
    });
  };

  const addSection = (letter, title, lx, ly, titleY, ruleY, legendYs, legendX, colors, panels, yTitles, hm) => {
    g.push({ type: 'text', silent: true, x: lx, y: ly, style: rt(letter, 32, { weight: 'bold', fill: '#111' }) });
    g.push({ type: 'text', silent: true, x: 686, y: titleY, style: rt(title, 24, { fill: '#111' }) });
    g.push({ type: 'line', silent: true, shape: { x1: 37, y1: ruleY, x2: 1345, y2: ruleY }, style: { stroke: '#333', lineWidth: 1.5 } });
    COND_LABELS.forEach((t, k) => {
      g.push({ type: 'rect', silent: true, shape: { x: 70, y: legendYs[k] - 11, width: 22, height: 22 }, style: { fill: colors[k], stroke: '#555', lineWidth: 1 } });
      g.push({ type: 'text', silent: true, x: legendX, y: legendYs[k], style: rt(t, 18, { align: 'left', fill: '#111' }) });
    });
    yTitles.forEach(([x, y]) => g.push({ type: 'text', silent: true, x, y, rotation: Math.PI / 2, style: rt(Y_TITLE, 16, { fill: '#222' }) }));
    panels.forEach((p) => addPanel(p, colors));
    addHeatmap(hm.vals, hm.L);
  };

  addSection('A', TITLE_A, 23, 24, 28, 48, [103, 138, 176, 211], 102, COLORS_A, PANELS_A,
    [[272, 162], [15, 389], [15, 620]],
    { vals: HM_A, L: { x0: 567, xc: 615, xd: 662, x1: 1306, hTop: 503, bTop: 543, bBot: 722, cbX: 1308, cbTop: 643, cbBot: 721, cbTicks: [651, 683, 712] } });
  addSection('B', TITLE_B, 26, 765, 773, 792, [857, 891, 928, 963], 100, COLORS_B, PANELS_B,
    [[285, 906], [15, 1127], [15, 1360]],
    { vals: HM_B, L: { x0: 567, xc: 615, xd: 662, x1: 1306, hTop: 1245, bTop: 1284, bBot: 1463, cbX: 1308, cbTop: 1385, cbBot: 1462, cbTicks: [1394, 1425, 1455] } });

  return {
    animation: false,
    backgroundColor: '#ffffff',
    textStyle: { fontFamily: FONT },
    grid, xAxis, yAxis, series,
    graphic: { elements: g },
  };
}

export default function App() {
  const ref = useRef<HTMLDivElement>(null);
  useEffect(() => {
    const chart = echarts.init(ref.current as HTMLDivElement, null, { renderer: 'svg' });
    chart.setOption(buildOption() as any);
    return () => chart.dispose();
  }, []);
  return <div ref={ref} style={{ position: 'absolute', left: 0, top: 0, width: 1349, height: 1462, background: '#fff' }} />;
}
